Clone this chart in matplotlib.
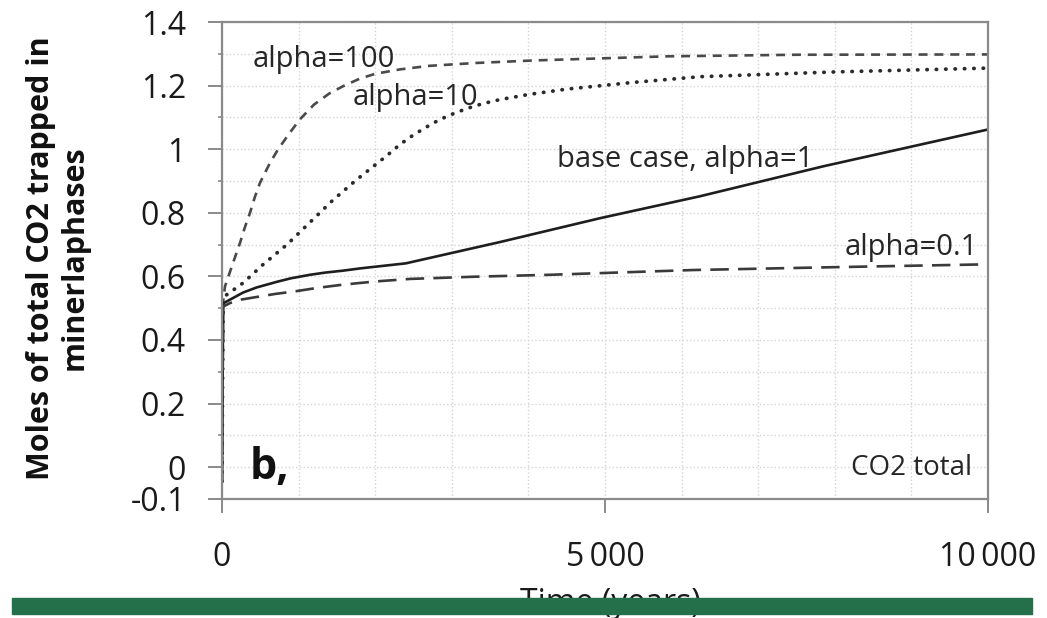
import matplotlib
matplotlib.use("Agg")
import matplotlib.pyplot as plt
from matplotlib.patches import Rectangle
from matplotlib.ticker import MultipleLocator

# curves (time in years, moles)
t_base = [0, 15, 274, 450, 718, 900, 1149, 1350, 1580, 1800, 2023, 2400, 3629, 4935, 6240,
          7846, 10000]
v_base = [-0.045, 0.515, 0.549, 0.565, 0.583, 0.594, 0.605, 0.612, 0.618, 0.625, 0.631, 0.641,
          0.708, 0.783, 0.852, 0.946, 1.062]

t_a01 = [0, 15, 104, 250, 496, 700, 927, 1250, 1580, 2000, 2454, 3300, 4282, 6149, 8000, 10000]
v_a01 = [-0.045, 0.505, 0.516, 0.527, 0.537, 0.545, 0.552, 0.564, 0.574, 0.584, 0.592, 0.599,
         0.605, 0.620, 0.629, 0.638]

t_a100 = [0, 15, 39, 144, 235, 300, 366, 430, 496, 560, 627, 731, 880, 1018, 1200, 1400,
          1580, 1800, 2000, 2324, 2700, 3300, 4060, 5809, 7500, 10000]
v_a100 = [-0.045, 0.52, 0.568, 0.642, 0.705, 0.755, 0.80, 0.85, 0.894, 0.925, 0.957, 0.999,
          1.05, 1.094, 1.14, 1.175, 1.198, 1.222, 1.237, 1.251, 1.262, 1.271, 1.279, 1.292,
          1.297, 1.298]

t_a10 = [0, 15, 60, 274, 535, 849, 1149, 1449, 1762, 2154, 2324, 2500, 2755, 2950, 3198,
         3400, 3629, 4000, 4504, 5366, 6240, 8000, 10000]
v_a10 = [-0.045, 0.52, 0.542, 0.579, 0.637, 0.70, 0.77, 0.84, 0.905, 0.98, 1.015, 1.045,
         1.082, 1.105, 1.128, 1.143, 1.156, 1.172, 1.189, 1.21, 1.228, 1.243, 1.255]

ytick_vals = [-0.1, 0, 0.2, 0.4, 0.6, 0.8, 1.0, 1.2, 1.4]
ytick_labels = ["-0.1", "0", "0.2", "0.4", "0.6", "0.8", "1", "1.2", "1.4"]
xtick_vals = [0, 5000, 10000]
xtick_labels = ["0", "5\u2009000", "10\u2009000"]

plt.rcParams['font.family'] = ['Open Sans', 'DejaVu Sans']

fig = plt.figure(figsize=(10.47, 6.18), dpi=100)
ax = fig.add_axes([0.212, 0.1926, 0.7317, 0.7718])

ax.plot(t_a100, v_a100, color='#4a4a4a', lw=1.9, ls=(0, (3.4, 2.6)))
ax.plot(t_a10, v_a10, color='#2a2a2a', lw=2.7, ls=(0, (0.1, 2.4)), dash_capstyle='round')
ax.plot(t_base, v_base, color='#1e1e1e', lw=1.9)
ax.plot(t_a01, v_a01, color='#3a3a3a', lw=1.9, ls=(0, (7, 3.5)))

ax.set_xlim(0, 10000)
ax.set_ylim(-0.1, 1.4)
ax.set_yticks(ytick_vals)
ax.set_yticklabels(ytick_labels)
ax.set_xticks(xtick_vals)
ax.set_xticklabels(xtick_labels)
ax.yaxis.set_minor_locator(MultipleLocator(0.1))
ax.xaxis.set_minor_locator(MultipleLocator(1000))
ax.grid(which='both', color='#d4d4d4', ls=':', lw=1.0)
ax.set_axisbelow(True)

ax.tick_params(axis='y', which='major', length=10, width=1.4, color='#8a8a8a',
               labelsize=23, pad=16, labelcolor='#1a1a1a')
ax.tick_params(axis='y', which='minor', length=3, width=1.2, color='#8a8a8a')
ax.tick_params(axis='x', which='major', length=10, width=1.4, color='#8a8a8a',
               labelsize=23, pad=20, labelcolor='#1a1a1a')
ax.tick_params(axis='x', which='minor', length=0)
for s in ax.spines.values():
    s.set_color('#8a8a8a')
    s.set_linewidth(1.6)

fig.text(58 / 1047, 1 - 258 / 618, "Moles of total CO2 trapped in\nminerlaphases",
         fontsize=22, fontweight='bold', rotation=90, ha='center', va='center',
         multialignment='center', linespacing=1.15, color='#111111')

tc = '#262626'
ax.text(405, 1.283, "alpha=100", fontsize=21, va='center', ha='left', color=tc)
ax.text(1710, 1.163, "alpha=10", fontsize=21, va='center', ha='left', color=tc)
ax.text(4373, 0.968, "base case, alpha=1", fontsize=21, va='center', ha='left', color=tc)
ax.text(9870, 0.69, "alpha=0.1", fontsize=21, va='center', ha='right', color=tc)
ax.text(9790, -0.002, "CO2 total", fontsize=20, va='center', ha='right', color=tc)
ax.text(365, 0.0, "b,", fontsize=31, fontweight='bold', va='center', ha='left', color='#111111')

fig.text(610 / 1047, 1 - 603 / 618, "Time (years)", fontsize=23, ha='center', va='center',
         color='#1a1a1a')
fig.add_artist(Rectangle((12 / 1047, 4 / 618), 1020 / 1047, 16 / 618,
                         transform=fig.transFigure, color='#23704a', zorder=10))

fig.savefig("out.png", dpi=100)
